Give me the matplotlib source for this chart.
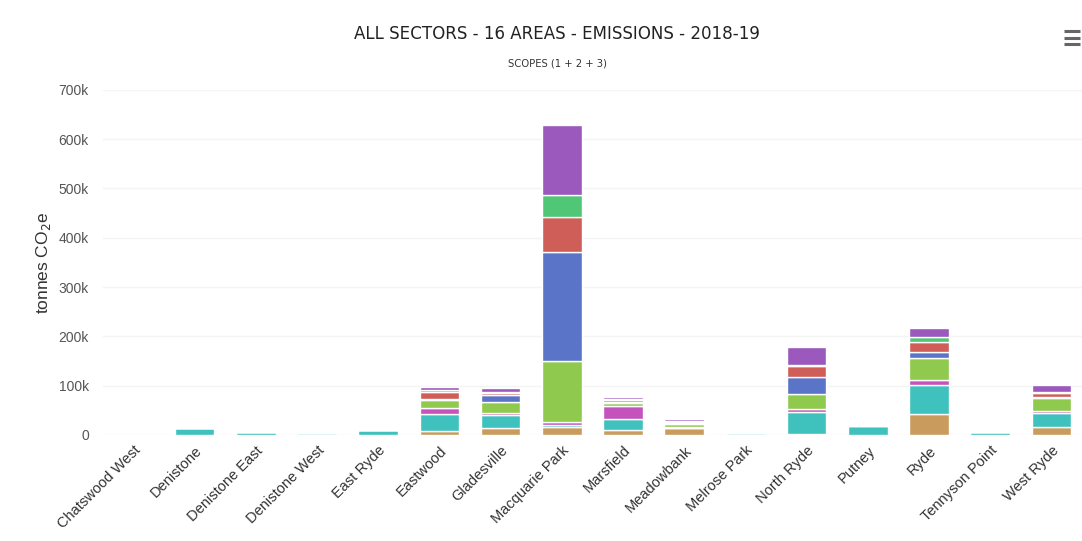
import matplotlib

matplotlib.use("Agg")

import matplotlib.pyplot as plt
import numpy as np
from matplotlib.ticker import FuncFormatter, MultipleLocator

# Data (tonnes CO2-e)
areas = [
    "Chatswood West", "Denistone", "Denistone East", "Denistone West",
    "East Ryde", "Eastwood", "Gladesville", "Macquarie Park", "Marsfield",
    "Meadowbank", "Melrose Park", "North Ryde", "Putney", "Ryde",
    "Tennyson Point", "West Ryde",
]
tan_vals = [0, 0, 0, 0, 0, 9000, 14000, 17000, 10000, 14000, 0, 2000, 0, 42000, 0, 16000]
cyan_vals = [500, 14000, 6000, 3000, 11000, 34000, 26000, 3000, 22000, 1000, 4000, 44000, 18000, 59000, 5000, 28000]
magenta_vals = [0, 0, 0, 0, 0, 11000, 4000, 6000, 27000, 1000, 0, 7000, 0, 10000, 0, 5000]
lgreen_vals = [0, 0, 0, 0, 0, 16000, 23000, 123000, 6000, 6000, 0, 30000, 3000, 45000, 0, 26000]
blue_vals = [0, 0, 0, 0, 0, 2000, 14000, 223000, 1000, 2000, 0, 34000, 0, 12000, 0, 2000]
red_vals = [0, 0, 0, 0, 0, 16000, 4000, 70000, 4000, 3000, 0, 22000, 0, 20000, 0, 8000]
emerald_vals = [0, 0, 0, 0, 0, 3000, 2000, 45000, 2000, 2000, 0, 3000, 0, 10000, 0, 2000]
purple_vals = [0, 0, 0, 0, 0, 7000, 8000, 141000, 4000, 4000, 0, 36000, 0, 18000, 0, 14000]

series = [tan_vals, cyan_vals, magenta_vals, lgreen_vals,
          blue_vals, red_vals, emerald_vals, purple_vals]
colors = ["#c99c5e", "#3fc2bd", "#c454bc", "#8fc94e",
          "#5a74c8", "#cf5d58", "#4fc777", "#9b58bd"]

fig = plt.figure(figsize=(10.82, 5.41), dpi=100)
ax = fig.add_axes([0.095, 0.196, 0.905, 0.638])

x = np.arange(len(areas))
bottom = np.zeros(len(areas))
for vals, col in zip(series, colors):
    v = np.asarray(vals, dtype=float)
    ax.bar(x, v, width=0.65, bottom=bottom, color=col,
           edgecolor="white", linewidth=1.0, zorder=3)
    bottom += v

ax.set_xlim(-0.5, len(areas) - 0.5)
ax.set_ylim(0, 700000)
ax.yaxis.set_major_locator(MultipleLocator(100000))
ax.yaxis.set_major_formatter(
    FuncFormatter(lambda v, _: "0" if v == 0 else f"{int(v / 1000)}k"))
ax.grid(axis="y", color="#f4f4f4", linewidth=1, zorder=0)

for s in ax.spines.values():
    s.set_visible(False)
ax.tick_params(axis="both", length=0)
ax.tick_params(axis="y", labelsize=10, labelcolor="#555555", pad=10)
ax.tick_params(axis="x", pad=6)
ax.set_xticks(x)
ax.set_xticklabels(areas, rotation=45, ha="right", rotation_mode="anchor",
                   fontsize=10.5, color="#333333", family="Liberation Sans")
for lab in ax.get_yticklabels():
    lab.set_family("Liberation Sans")

ax.set_ylabel("tonnes CO$_2$e", fontsize=12.5, color="#333333",
              family="Liberation Sans", labelpad=4)

fig.text(0.515, 0.938, "ALL SECTORS - 16 AREAS - EMISSIONS - 2018-19",
         ha="center", va="center", fontsize=13.3, color="#222222",
         family="DejaVu Sans", fontstretch="condensed")
fig.text(0.515, 0.883, "SCOPES (1 + 2 + 3)", ha="center", va="center",
         fontsize=8, color="#333333",
         family="DejaVu Sans", fontstretch="condensed")

# menu icon, top right
for yy in (0.942, 0.930, 0.918):
    fig.add_artist(plt.Line2D([0.983, 0.998], [yy, yy], color="#666666",
                              linewidth=2.2, solid_capstyle="butt"))

fig.savefig("out.png", dpi=100, facecolor="white")
